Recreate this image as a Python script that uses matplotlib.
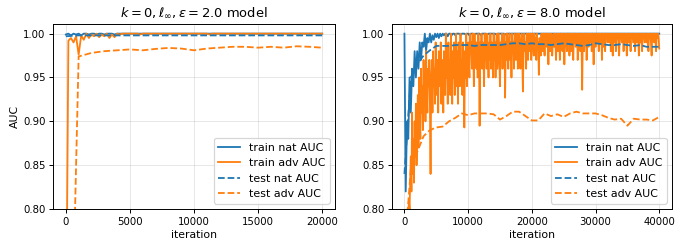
import numpy as np
import matplotlib
matplotlib.use("Agg")
import matplotlib.pyplot as plt

# ---------------- data: left panel (eps = 2.0) ----------------
left_train_iter = np.arange(0, 20001, 200)
left_train_nat = [
    0.999, 1.0, 0.998, 1.0, 0.999, 1.0, 0.998, 1.0, 1.0, 0.999,
    1.0, 1.0, 0.999, 1.0, 1.0, 0.999, 1.0, 1.0, 1.0, 0.999,
    1.0, 1.0, 1.0, 1.0, 1.0, 1.0, 1.0, 1.0, 1.0, 1.0,
    1.0, 1.0, 1.0, 1.0, 1.0, 1.0, 1.0, 1.0, 1.0, 1.0,
    1.0, 1.0, 1.0, 1.0, 1.0, 1.0, 1.0, 1.0, 1.0, 1.0,
    1.0, 1.0, 1.0, 1.0, 1.0, 1.0, 1.0, 1.0, 1.0, 1.0,
    1.0, 1.0, 1.0, 1.0, 1.0, 1.0, 1.0, 1.0, 1.0, 1.0,
    1.0, 1.0, 1.0, 1.0, 1.0, 1.0, 1.0, 1.0, 1.0, 1.0,
    1.0, 1.0, 1.0, 1.0, 1.0, 1.0, 1.0, 1.0, 1.0, 1.0,
    1.0, 1.0, 1.0, 1.0, 1.0, 1.0, 1.0, 1.0, 1.0, 1.0,
    1.0,
]
left_train_adv = [
    0.60, 0.992, 0.995, 0.990, 0.997, 0.976, 0.998, 0.993, 1.0, 0.995,
    0.999, 0.997, 1.0, 0.996, 0.999, 0.997, 1.0, 0.995, 0.999, 0.996,
    1.0, 0.999, 1.0, 1.0, 1.0, 1.0, 1.0, 1.0, 1.0, 0.999,
    1.0, 1.0, 1.0, 1.0, 1.0, 1.0, 1.0, 1.0, 1.0, 1.0,
    1.0, 1.0, 1.0, 1.0, 1.0, 1.0, 1.0, 1.0, 1.0, 1.0,
    1.0, 1.0, 1.0, 1.0, 1.0, 1.0, 0.999, 1.0, 1.0, 1.0,
    1.0, 1.0, 1.0, 1.0, 1.0, 1.0, 1.0, 1.0, 1.0, 1.0,
    1.0, 1.0, 1.0, 1.0, 1.0, 1.0, 1.0, 1.0, 1.0, 1.0,
    1.0, 1.0, 1.0, 1.0, 1.0, 1.0, 1.0, 1.0, 1.0, 1.0,
    1.0, 1.0, 1.0, 1.0, 1.0, 1.0, 1.0, 1.0, 1.0, 1.0,
    1.0,
]
left_test_iter = np.arange(0, 20001, 1000)
left_test_nat = [
    0.997, 0.998, 0.998, 0.998, 0.998, 0.998, 0.998, 0.998, 0.998, 0.998,
    0.998, 0.998, 0.998, 0.998, 0.998, 0.998, 0.998, 0.998, 0.998, 0.998,
    0.998,
]
left_test_adv = [
    0.35, 0.974, 0.978, 0.980, 0.981, 0.982, 0.981, 0.9826, 0.9837, 0.983,
    0.981, 0.983, 0.984, 0.985, 0.985, 0.984, 0.985, 0.984, 0.9856, 0.985,
    0.984,
]

# ---------------- data: right panel (eps = 8.0) ----------------
right_nat_iter = np.arange(0, 40001, 200)
right_train_nat = [
    1.0, 0.82, 0.90, 0.88, 0.95, 0.91, 0.96, 0.94, 0.98, 0.95,
    0.98, 0.96, 0.99, 0.97, 0.99, 0.985, 1.0, 0.98, 0.995, 0.99,
    1.0, 0.99, 0.998, 0.993, 1.0, 0.996, 1.0, 0.995, 1.0, 0.997,
    1.0, 0.998, 1.0, 1.0, 0.997, 1.0, 1.0, 0.998, 1.0, 1.0,
    0.998, 1.0, 1.0, 1.0, 0.998, 1.0, 1.0, 1.0, 0.999, 1.0,
    1.0, 0.998, 1.0, 1.0, 1.0, 0.999, 1.0, 1.0, 1.0, 1.0,
    0.998, 1.0, 1.0, 1.0, 1.0, 0.999, 1.0, 1.0, 1.0, 1.0,
    1.0, 1.0, 0.999, 1.0, 1.0, 1.0, 1.0, 1.0, 1.0, 0.999,
    1.0, 1.0, 1.0, 1.0, 1.0, 1.0, 1.0, 1.0, 1.0, 1.0,
    1.0, 1.0, 1.0, 1.0, 1.0, 1.0, 1.0, 1.0, 1.0, 1.0,
    1.0, 1.0, 1.0, 1.0, 1.0, 1.0, 1.0, 1.0, 1.0, 1.0,
    1.0, 1.0, 1.0, 1.0, 1.0, 1.0, 1.0, 1.0, 1.0, 1.0,
    1.0, 1.0, 1.0, 1.0, 1.0, 1.0, 1.0, 1.0, 1.0, 1.0,
    1.0, 1.0, 1.0, 1.0, 1.0, 1.0, 1.0, 1.0, 1.0, 1.0,
    1.0, 1.0, 1.0, 1.0, 1.0, 1.0, 1.0, 1.0, 1.0, 1.0,
    1.0, 1.0, 1.0, 1.0, 1.0, 1.0, 1.0, 1.0, 1.0, 1.0,
    1.0, 1.0, 1.0, 1.0, 1.0, 1.0, 1.0, 1.0, 1.0, 1.0,
    1.0, 1.0, 1.0, 1.0, 1.0, 1.0, 1.0, 1.0, 1.0, 1.0,
    1.0, 1.0, 1.0, 1.0, 1.0, 1.0, 1.0, 1.0, 1.0, 1.0,
    1.0, 1.0, 1.0, 1.0, 1.0, 1.0, 1.0, 1.0, 1.0, 1.0,
    1.0,
]
right_adv_iter = np.arange(0, 40001, 100)
right_train_adv = [
    0.76, 0.78, 0.77, 0.79, 0.78, 0.80, 0.79, 0.81, 0.80, 0.83, 0.86, 0.82, 0.91, 0.84, 0.88, 0.83, 0.90, 0.86, 0.92, 0.85,
    0.89, 0.93, 0.87, 0.95, 0.90, 0.88, 0.96, 0.91, 0.94, 0.89, 0.97, 0.92, 0.95, 0.90, 0.98, 0.93, 0.91, 0.96, 0.94, 0.97,
    0.92, 0.84, 0.95, 0.97, 0.91, 0.98, 0.94, 0.96, 0.92, 0.99, 0.95, 0.93, 0.97, 0.91, 0.98, 0.96, 0.94, 0.99, 0.92, 0.97,
    0.95, 0.91, 0.98, 0.96, 0.93, 1.0, 0.95, 0.97, 0.92, 0.99, 0.94, 0.97, 0.93, 1.0, 0.96, 0.92, 0.98, 0.95, 0.99, 0.93,
    0.97, 1.0, 0.94, 0.98, 0.92, 0.99, 0.96, 0.94, 1.0, 0.95, 0.97, 0.93, 0.99, 0.96, 0.893, 0.98, 0.95, 1.0, 0.94, 0.97,
    0.99, 0.97, 0.95, 1.0, 0.98, 0.99, 0.96, 1.0, 0.98, 0.94, 1.0, 0.97, 0.99, 0.96, 0.99, 0.95, 1.0, 0.98, 0.895, 0.99,
    0.97, 1.0, 0.96, 0.99, 0.98, 0.94, 1.0, 0.97, 0.99, 0.96, 1.0, 0.98, 0.95, 0.99, 0.97, 1.0, 0.96, 0.99, 0.98, 0.95,
    1.0, 0.97, 0.99, 0.95, 0.99, 1.0, 0.96, 0.98, 1.0, 0.97, 0.94, 0.99, 0.98, 1.0, 0.96, 0.99, 0.97, 1.0, 0.927, 0.99,
    0.97, 1.0, 0.98, 0.96, 0.99, 1.0, 0.97, 0.99, 0.95, 1.0, 0.98, 0.99, 0.96, 1.0, 0.99, 0.97, 0.99, 1.0, 0.96, 0.99,
    1.0, 0.98, 0.96, 0.99, 1.0, 0.97, 0.934, 0.99, 1.0, 0.98, 0.99, 0.96, 1.0, 0.99, 0.97, 1.0, 0.99, 0.98, 1.0, 0.97,
    0.99, 1.0, 0.985, 0.975, 1.0, 0.99, 0.995, 0.97, 1.0, 0.985, 0.99, 0.953, 0.995, 0.99, 0.975, 1.0, 0.99, 0.98, 1.0, 0.99,
    0.975, 1.0, 0.99, 0.985, 1.0, 0.99, 0.965, 1.0, 0.995, 0.98, 1.0, 0.99, 0.975, 0.995, 1.0, 0.985, 1.0, 0.99, 0.97, 1.0,
    0.99, 0.98, 1.0, 0.995, 0.97, 1.0, 0.99, 1.0, 0.98, 0.995, 1.0, 0.965, 0.99, 1.0, 0.995, 0.98, 1.0, 0.99, 1.0, 0.975,
    1.0, 0.99, 0.98, 1.0, 0.995, 0.97, 1.0, 0.99, 1.0, 0.985, 0.995, 1.0, 0.97, 0.99, 1.0, 0.995, 0.98, 1.0, 0.99, 0.936,
    1.0, 0.995, 0.98, 1.0, 0.99, 1.0, 0.97, 0.995, 1.0, 0.985, 1.0, 0.99, 0.995, 1.0, 0.98, 1.0, 0.99, 0.965, 1.0, 0.995,
    0.985, 1.0, 0.995, 0.99, 1.0, 0.98, 1.0, 0.995, 0.99, 1.0, 0.97, 1.0, 0.995, 0.985, 1.0, 0.98, 1.0, 0.995, 1.0, 0.99,
    1.0, 0.99, 0.995, 1.0, 0.98, 1.0, 0.995, 0.975, 1.0, 0.99, 1.0, 0.995, 0.98, 1.0, 0.995, 1.0, 0.99, 0.975, 1.0, 0.995,
    1.0, 0.99, 0.995, 1.0, 0.98, 1.0, 0.995, 0.99, 1.0, 0.975, 0.995, 1.0, 0.99, 1.0, 0.995, 0.98, 1.0, 0.995, 1.0, 0.99,
    0.995, 1.0, 0.98, 1.0, 0.995, 0.99, 1.0, 0.995, 0.975, 1.0, 0.99, 1.0, 0.995, 0.98, 1.0, 0.995, 1.0, 0.99, 0.995, 1.0,
    0.99, 1.0, 0.995, 0.98, 1.0, 0.995, 1.0, 0.99, 0.975, 1.0, 0.995, 1.0, 0.99, 1.0, 0.995, 0.98, 1.0, 0.995, 1.0, 0.995,
    0.983,
]
right_test_iter = np.arange(0, 40001, 1000)
right_test_nat = [
    0.84, 0.950, 0.965, 0.975, 0.981, 0.986, 0.986, 0.986, 0.987, 0.987,
    0.987, 0.986, 0.987, 0.987, 0.987, 0.987, 0.988, 0.989, 0.989, 0.988,
    0.989, 0.988, 0.988, 0.987, 0.988, 0.989, 0.988, 0.987, 0.986, 0.987,
    0.989, 0.988, 0.987, 0.987, 0.988, 0.987, 0.986, 0.987, 0.985, 0.985,
    0.985,
]
right_test_adv = [
    0.75, 0.845, 0.865, 0.883, 0.890, 0.893, 0.894, 0.900, 0.904, 0.909,
    0.907, 0.909, 0.909, 0.909, 0.908, 0.902, 0.906, 0.911, 0.911, 0.906,
    0.901, 0.901, 0.909, 0.906, 0.908, 0.905, 0.909, 0.911, 0.909, 0.909,
    0.909, 0.907, 0.904, 0.902, 0.903, 0.895, 0.903, 0.902, 0.902, 0.901,
    0.905,
]

titles = [r"$k=0, \ell_\infty, \varepsilon=2.0$ model",
          r"$k=0, \ell_\infty, \varepsilon=8.0$ model"]
yticks = [0.80, 0.85, 0.90, 0.95, 1.00]

DPI = 87
fig = plt.figure(figsize=(685 / DPI, 251 / DPI), dpi=DPI)
ax1 = fig.add_axes([53 / 685, 1 - 209 / 251, (335 - 53) / 685, (209 - 24) / 251])
ax2 = fig.add_axes([391.7 / 685, 1 - 209 / 251, (672 - 391.7) / 685, (209 - 24) / 251])

blue = "#1f77b4"
orange = "#ff7f0e"

panels = [
    (ax1, left_train_iter, left_train_nat, left_train_iter, left_train_adv,
     left_test_iter, left_test_nat, left_test_adv),
    (ax2, right_nat_iter, right_train_nat, right_adv_iter, right_train_adv,
     right_test_iter, right_test_nat, right_test_adv),
]
for i, (ax, xn, trn, xa, tra, tei, ten, tea) in enumerate(panels):
    ax.plot(xn, trn, color=blue, label="train nat AUC")
    ax.plot(xa, tra, color=orange, label="train adv AUC")
    ax.plot(tei, ten, color=blue, ls="--", label="test nat AUC")
    ax.plot(tei, tea, color=orange, ls="--", label="test adv AUC")
    ax.set_ylim(0.80, 1.011)
    ax.set_yticks(yticks)
    ax.set_yticklabels([f"{v:.2f}" for v in yticks])
    ax.tick_params(axis="both", labelsize=8.4)
    ax.tick_params(axis="y", pad=2.5)
    ax.grid(True, alpha=0.3)
    ax.set_xlabel("iteration", fontsize=9, labelpad=2)
    ax.set_title(titles[i], fontsize=10.8)
    ax.legend(loc="lower right", fontsize=9.1)

ax1.set_xticks([0, 5000, 10000, 15000, 20000])
ax2.set_xticks([0, 10000, 20000, 30000, 40000])
ax1.set_ylabel("AUC", fontsize=9, labelpad=3)

fig.savefig("out.png", dpi=DPI)
